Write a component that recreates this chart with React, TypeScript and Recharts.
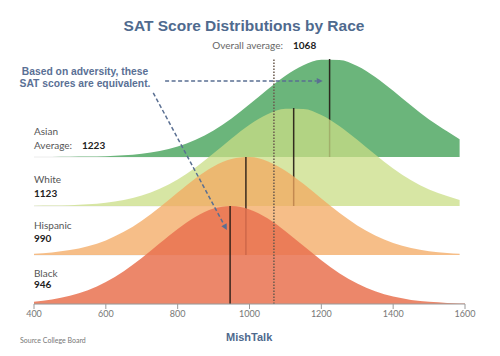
import React from 'react';
import { ComposedChart, Area, XAxis, YAxis, ReferenceLine } from 'recharts';

// score grid the curves were read at
const scores = [400, 450, 500, 550, 600, 650, 700, 750, 800, 850, 900, 950, 1000, 1050, 1100, 1150, 1200, 1250, 1300, 1350, 1400, 1450, 1500, 1550, 1585, 1600];

// relative density (1 = peak)
const asianShare = [0, 0.001, 0.002, 0.004, 0.008, 0.017, 0.033, 0.061, 0.107, 0.176, 0.271, 0.394, 0.537, 0.688, 0.828, 0.936, 0.993, 0.991, 0.929, 0.817, 0.676, 0.525, 0.383, 0.263, 0.18, null];
const whiteShare = [0.002, 0.004, 0.008, 0.017, 0.033, 0.061, 0.107, 0.176, 0.271, 0.394, 0.537, 0.688, 0.828, 0.936, 0.993, 0.991, 0.929, 0.817, 0.676, 0.525, 0.383, 0.263, 0.169, 0.102, 0.062, null];
const hispanicShare = [0.013, 0.026, 0.05, 0.089, 0.149, 0.236, 0.35, 0.487, 0.637, 0.783, 0.904, 0.98, 0.999, 0.956, 0.86, 0.726, 0.576, 0.43, 0.301, 0.198, 0.122, 0.071, 0.039, 0.02, 0.012, null];
const blackShare = [0.024, 0.046, 0.083, 0.141, 0.224, 0.334, 0.469, 0.619, 0.766, 0.891, 0.974, 1, 0.964, 0.874, 0.743, 0.594, 0.446, 0.315, 0.209, 0.13, 0.076, 0.042, 0.022, 0.011, 0.006, 0.005];

const groups = ['Asian', 'White', 'Hispanic', 'Black'];
const groupAverages = [1223, 1123, 990, 946];
const overallAverage = 1068;
const xTicks = [400, 600, 800, 1000, 1200, 1400, 1600];

const rows = scores.map((score, i) => ({
  score,
  asian: asianShare[i],
  white: whiteShare[i],
  hispanic: hispanicShare[i],
  black: blackShare[i],
}));

const RIDGE = 2; // peak height in row units

const layers = [
  { key: 'asian', base: 3, fill: '#6bb57b', opacity: 1 },
  { key: 'white', base: 2, fill: '#c9de86', opacity: 0.75 },
  { key: 'hispanic', base: 1, fill: '#f3a860', opacity: 0.75 },
  { key: 'black', base: 0, fill: '#e97250', opacity: 0.85 },
];

const W = 500;
const H = 356;
const M = { top: 59, right: 35, bottom: 32, left: 34 };

const ARROW = '#5a6f92';

const arrowShape = (props: any) => {
  const { x1, y1, x2, y2 } = props;
  const len = Math.hypot(x2 - x1, y2 - y1) || 1;
  const ux = (x2 - x1) / len;
  const uy = (y2 - y1) / len;
  const bx = x2 - ux * 6;
  const by = y2 - uy * 6;
  return (
    <g>
      <line x1={x1} y1={y1} x2={bx} y2={by} stroke={ARROW} strokeWidth={1.5} strokeDasharray="4 2.5" />
      <polygon points={`${x2},${y2} ${bx - uy * 3},${by + ux * 3} ${bx + uy * 3},${by - ux * 3}`} fill={ARROW} />
    </g>
  );
};

const labelFont = 'Lato, "Open Sans", sans-serif';

export default function App() {
  return (
    <div style={{ position: 'absolute', left: 0, top: 0, width: W, height: H, background: '#fff' }}>
      <ComposedChart width={W} height={H} data={rows} margin={M}>
        <XAxis
          type="number"
          dataKey="score"
          domain={[400, 1600]}
          ticks={xTicks}
          allowDataOverflow
          height={20}
          tickSize={5}
          stroke="#9a9a9a"
          tick={{ fill: '#777', fontSize: 9, fontFamily: labelFont }}
        />
        <YAxis type="number" domain={[0, 5]} hide allowDataOverflow />

        {layers.map((l, i) => (
          <ReferenceLine
            key={`base-${l.key}`}
            segment={[{ x: 400, y: l.base }, { x: 1000, y: l.base }]}
            stroke="#ececec"
            strokeWidth={1}
            zIndex={1 + i}
          />
        ))}

        {layers.map((l, i) => [
          <Area
            key={`area-${l.key}`}
            type="monotone"
            dataKey={(d: any) => (d[l.key] == null ? null : l.base + RIDGE * d[l.key])}
            baseValue={l.base}
            fill={l.fill}
            fillOpacity={l.opacity}
            stroke="none"
            dot={false}
            activeDot={false}
            isAnimationActive={false}
            zIndex={10 + i * 2}
          />,
          <ReferenceLine
            key={`mean-${l.key}`}
            segment={[{ x: groupAverages[i], y: l.base }, { x: groupAverages[i], y: l.base + RIDGE }]}
            stroke="#241a14"
            strokeOpacity={0.9}
            strokeWidth={1.5}
            zIndex={11 + i * 2}
          />,
        ])}

        <ReferenceLine
          segment={[{ x: overallAverage, y: 0 }, { x: overallAverage, y: 5 }]}
          stroke="#6a5a4e"
          strokeWidth={1.5}
          strokeDasharray="1.5 1.5"
          zIndex={30}
        />
        <ReferenceLine
          segment={[{ x: 765, y: 4.55 }, { x: 1204, y: 4.55 }]}
          shape={arrowShape}
          zIndex={31}
        />
        <ReferenceLine
          segment={[{ x: 732, y: 4.31 }, { x: 937, y: 1.51 }]}
          shape={arrowShape}
          zIndex={32}
        />
      </ComposedChart>

      <svg width={W} height={H} style={{ position: 'absolute', left: 0, top: 0, pointerEvents: 'none' }}>
        <text x={244} y={30.5} textAnchor="middle" fontFamily='"Liberation Sans", Arial, sans-serif' fontWeight="bold" fontSize={15.5} fill="#4f6a8e">
          SAT Score Distributions by Race
        </text>
        <text x={283} y={49} textAnchor="end" fontFamily={labelFont} fontSize={10} fill="#666">
          Overall average:
        </text>
        <text x={293} y={49} fontFamily={labelFont} fontWeight="bold" fontSize={10} fill="#222">
          {overallAverage}
        </text>
        <text textAnchor="middle" fontFamily='"Liberation Sans", Arial, sans-serif' fontWeight="bold" fontSize={10.3} fill="#5a7095">
          <tspan x={85} y={75}>Based on adversity, these</tspan>
          <tspan x={85} y={86.5}>SAT scores are equivalent.</tspan>
        </text>

        <text x={34} y={135} fontFamily={labelFont} fontSize={10} fill="#555">{groups[0]}</text>
        <text x={34} y={148.5} fontFamily={labelFont} fontSize={10} fill="#555">Average:</text>
        <text x={82} y={148.5} fontFamily={labelFont} fontWeight="bold" fontSize={10} fill="#222">{groupAverages[0]}</text>

        <text x={34} y={183} fontFamily={labelFont} fontSize={10} fill="#555">{groups[1]}</text>
        <text x={34} y={197} fontFamily={labelFont} fontWeight="bold" fontSize={10} fill="#222">{groupAverages[1]}</text>

        <text x={34} y={229} fontFamily={labelFont} fontSize={10} fill="#555">{groups[2]}</text>
        <text x={34} y={242} fontFamily={labelFont} fontWeight="bold" fontSize={10} fill="#222">{groupAverages[2]}</text>

        <text x={34} y={276.5} fontFamily={labelFont} fontSize={10} fill="#555">{groups[3]}</text>
        <text x={34} y={288} fontFamily={labelFont} fontWeight="bold" fontSize={10} fill="#222">{groupAverages[3]}</text>

        <text x={20} y={342.5} fontFamily={labelFont} fontSize={7} fill="#777">Source College Board</text>
        <text x={226} y={340.5} fontFamily='"Liberation Sans", Arial, sans-serif' fontWeight="bold" fontSize={11} fill="#4f6a8e">MishTalk</text>
      </svg>
    </div>
  );
}
